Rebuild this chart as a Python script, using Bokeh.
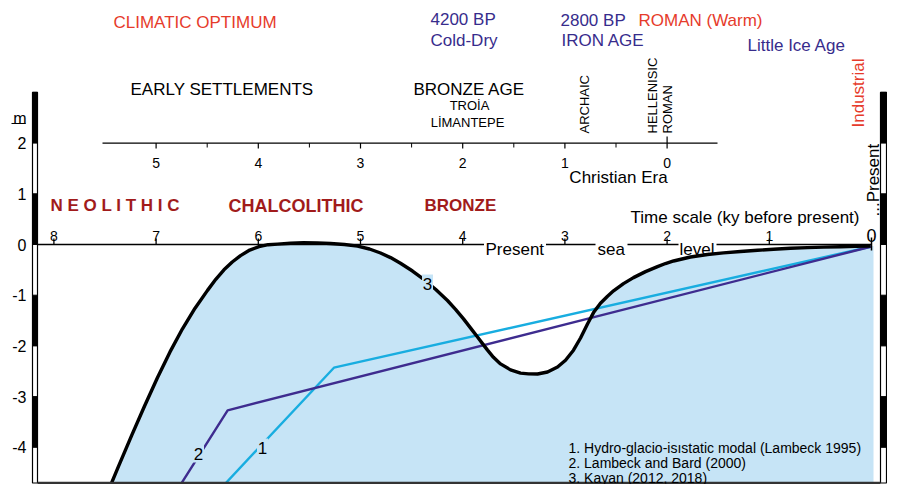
import math
from bokeh.plotting import figure
from bokeh.models import Range1d
from bokeh.core.properties import value
from bokeh.embed import file_html
from bokeh.resources import INLINE

# ---------------- data ----------------
ky_ticks = [8, 7, 6, 5, 4, 3, 2, 1]          # time scale, ky before present
ce_ticks = [5, 4, 3, 2, 1, 0]                # Christian Era (ky BC)
ce_minor = [4.5, 3.5, 2.5, 1.5, 0.5]
ce_offset_ky = 2.0                           # 0 CE = 2 ky BP
m_ticks = [2, 1, 0, -1, -2, -3, -4]          # sea level, m
m_bands = [3, 2, 1, 0, -1, -2, -3, -4, -5]

# 3. Kayan (2012, 2018)
kayan_ky = [7.495, 7.368, 7.241, 7.114, 6.986, 6.864, 6.742, 6.619, 6.497,
            6.416, 6.336, 6.255, 6.174, 6.084, 5.993, 5.903, 5.812, 5.685,
            5.558, 5.421, 5.294, 5.157, 5.029, 4.912, 4.804, 4.706, 4.609,
            4.491, 4.384, 4.266, 4.149, 4.070, 3.992, 3.924, 3.855, 3.806,
            3.757, 3.699, 3.630, 3.532, 3.434, 3.356, 3.268, 3.170, 3.072,
            2.994, 2.916, 2.847, 2.779, 2.720, 2.652, 2.583, 2.524, 2.427,
            2.329, 2.211, 2.094, 2.016, 1.937, 1.771, 1.605, 1.448, 1.282,
            1.115, 0.959, 0.793, 0.626, 0.470, 0.303, 0.157, 0.010]
kayan_m = [-4.990, -4.375, -3.775, -3.191, -2.623, -2.118, -1.663, -1.256, -0.905,
           -0.686, -0.499, -0.345, -0.219, -0.110, -0.041, -0.004, 0.008, 0.026,
           0.034, 0.032, 0.020, 0.000, -0.032, -0.089, -0.168, -0.258, -0.369,
           -0.523, -0.684, -0.884, -1.105, -1.278, -1.467, -1.645, -1.826, -1.955,
           -2.083, -2.225, -2.355, -2.473, -2.536, -2.552, -2.554, -2.515, -2.416,
           -2.282, -2.085, -1.844, -1.568, -1.343, -1.158, -1.020, -0.913, -0.771,
           -0.653, -0.535, -0.436, -0.375, -0.325, -0.247, -0.197, -0.166, -0.138,
           -0.114, -0.093, -0.075, -0.061, -0.051, -0.043, -0.037, -0.032]
# 1. Hydro-glacio-isostatic model (Lambeck 1995)
lambeck95_ky = [6.45, 5.26, 0.0]
lambeck95_m = [-4.99, -2.43, -0.04]
# 2. Lambeck and Bard (2000)
lambard_ky = [6.84, 6.30, 0.0]
lambard_m = [-4.99, -3.27, -0.04]

legend_lines = ["1. Hydro-glacio-isıstatic modal (Lambeck 1995)",
                "2. Lambeck and Bard (2000)",
                "3. Kayan (2012, 2018)"]

# ---------------- layout helpers (pixel -> data) ----------------
def X(px):
    return (871.0 - px) / 102.2

def Y(py):
    return (244.0 - py) / 50.7

FONT = value("Liberation Sans")
RED = "#e63b2b"
PURPLE = "#372c8c"
DARKRED = "#a11b1b"
BLUE = "#c6e4f6"
CYAN = "#18ade0"
LINEPURPLE = "#3e2c8f"

W, H = 887, 484
p = figure(width=W, height=H,
           x_range=Range1d(X(0), X(W)), y_range=Range1d(Y(H), Y(0)),
           x_axis_location=None, y_axis_location=None,
           toolbar_location=None, output_backend="svg", min_border=0)
for g in p.grid:
    g.visible = False
p.outline_line_color = None
p.background_fill_color = "white"
p.border_fill_color = "white"


def txt(s, x, y, size="17px", color="black", align="left",
        baseline="alphabetic", bold=False, angle=0.0):
    p.text(x=[x], y=[y], text=[s], text_font=FONT, text_font_size=size,
           text_color=color, text_align=align, text_baseline=baseline,
           text_font_style="bold" if bold else "normal", angle=angle)


bottom_y = Y(482.5)
right_x = X(873)

# ---------------- blue area under Kayan curve ----------------
fill_x = kayan_ky + [right_x, right_x, kayan_ky[0]]
fill_y = kayan_m + [kayan_m[-1], -5.5, -5.5]
p.patch(fill_x, fill_y, fill_color=BLUE, line_color=None)

# model lines
p.line(lambeck95_ky, lambeck95_m, line_color=CYAN, line_width=2.4)
p.line(lambard_ky, lambard_m, line_color=LINEPURPLE, line_width=2.4)
p.line(kayan_ky, kayan_m, line_color="black", line_width=3.4,
       line_join="round")

# line labels with gaps
p.rect(x=[X(262), X(198), X(427)], y=[Y(447), Y(453), Y(283)], width=11,
       height=18, width_units="screen", height_units="screen",
       fill_color=BLUE, line_color=None)
txt("1", X(262), Y(447), baseline="middle", align="center")
txt("2", X(198), Y(453), baseline="middle", align="center")
txt("3", X(427), Y(283), baseline="middle", align="center")

# ---------------- main time axis (present sea level) ----------------
p.segment(x0=[X(37)], y0=[0], x1=[0], y1=[0], line_color="black", line_width=1.3)
p.segment(x0=ky_ticks, y0=[0] * len(ky_ticks), x1=ky_ticks,
          y1=[Y(238)] * len(ky_ticks), line_color="black", line_width=1.3)
p.segment(x0=[0], y0=[Y(237)], x1=[0], y1=[Y(250)], line_color="black",
          line_width=1.5)
for t in ky_ticks:
    txt(str(t), t, Y(235), size="14px", align="center")
txt("0", 0, Y(235), size="18px", align="center")

# white gaps for "Present sea level"
p.rect(x=[X(514.5), X(611), X(697)], y=[Y(243)] * 3,
       width=[62, 32, 38], height=16, width_units="screen",
       height_units="screen", fill_color="white", line_color=None)
txt("Present", X(485), Y(249))
txt("sea", X(597), Y(249))
txt("level", X(679), Y(249))
txt("Time scale (ky before present)", X(859), Y(217), align="right")
txt("...Present", X(873), Y(216), angle=math.pi / 2, baseline="middle")

# ---------------- Christian Era axis ----------------
ce_x = [c + ce_offset_ky for c in ce_ticks]
ce_mx = [c + ce_offset_ky for c in ce_minor]
p.segment(x0=[X(102)], y0=[2], x1=[X(717)], y1=[2], line_color="black",
          line_width=1.3)
p.segment(x0=ce_x, y0=[2] * len(ce_x), x1=ce_x, y1=[Y(148)] * len(ce_x),
          line_color="black", line_width=1.2)
p.segment(x0=ce_mx, y0=[2] * len(ce_mx), x1=ce_mx, y1=[Y(147)] * len(ce_mx),
          line_color="black", line_width=1.0)
p.segment(x0=[ce_offset_ky], y0=[Y(136)], x1=[ce_offset_ky], y1=[2],
          line_color="black", line_width=1.2)
for c, xx in zip(ce_ticks, ce_x):
    txt(str(c), xx, Y(162), size="14px", align="center")
txt("Christian Era", X(618), Y(177), align="center")

# ---------------- left and right metre bars ----------------
for (l, r) in [(X(32), X(37)), (X(880), X(886))]:
    p.quad(left=[l], right=[r], top=[m_bands[0]], bottom=[bottom_y],
           fill_color="white", line_color="black", line_width=1.2)
    tops = m_bands[0:-1:2]
    bots = m_bands[1::2]
    p.quad(left=[l] * len(tops), right=[r] * len(tops), top=tops,
           bottom=bots, fill_color="black", line_color="black")
for m in m_ticks:
    txt(str(m), X(26), m, size="16px", align="right", baseline="middle")
txt("m", X(26), Y(118), size="16px", align="right")
p.segment(x0=[X(11)], y0=[Y(123)], x1=[X(25)], y1=[Y(123)],
          line_color="black", line_width=1.2)

# frame bottom
p.segment(x0=[X(37)], y0=[bottom_y], x1=[X(880)], y1=[bottom_y],
          line_color="#333333", line_width=2.5)

# ---------------- period / culture labels ----------------
txt("N E O L I T H I C", X(50), Y(205), size="17px", color=DARKRED, bold=True)
txt("CHALCOLITHIC", X(228), Y(205), size="18px", color=DARKRED, bold=True)
txt("BRONZE", X(424), Y(205), size="17px", color=DARKRED, bold=True)

txt("EARLY SETTLEMENTS", X(130), Y(89))
txt("BRONZE AGE", X(413), Y(89))
txt("TROİA", X(469), Y(105), size="13px", align="center")
txt("LİMANTEPE", X(467), Y(122), size="13px", align="center")
txt("ARCHAIC", X(584), Y(133), size="13px", angle=math.pi / 2, baseline="middle")
txt("HELLENISIC", X(652), Y(133), size="13px", angle=math.pi / 2, baseline="middle")
txt("ROMAN", X(667), Y(133), size="13px", angle=math.pi / 2, baseline="middle")
txt("Industrial", X(858), Y(127), color=RED, angle=math.pi / 2, baseline="middle")

# climate labels
txt("CLIMATIC OPTIMUM", X(113), Y(22), color=RED)
txt("4200 BP", X(430), Y(19), color=PURPLE)
txt("Cold-Dry", X(430), Y(40), color=PURPLE)
txt("2800 BP", X(560), Y(20), color=PURPLE)
txt("IRON AGE", X(561), Y(40), color=PURPLE)
txt("ROMAN (Warm)", X(638), Y(20), color=RED)
txt("Little Ice Age", X(747), Y(45), color=PURPLE)

# legend
for i, s in enumerate(legend_lines):
    txt(s, X(568), Y(447 + 15 * i), size="14px")

open("out.html", "w").write(file_html(p, INLINE))
